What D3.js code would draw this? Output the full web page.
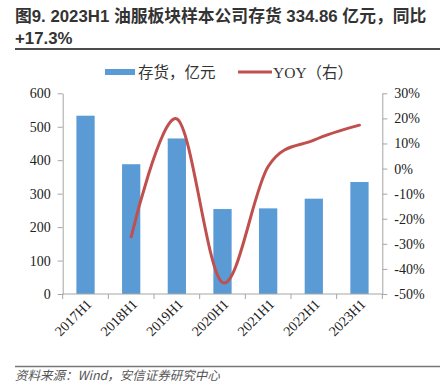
<!DOCTYPE html>
<html>
<head>
<meta charset="utf-8">
<script src="https://cdn.jsdelivr.net/npm/d3@7/dist/d3.min.js"></script>
<style>
  body { margin: 0; background: #fff; }
  svg { display: block; }
  .tick text { font-family: "Liberation Serif", "Times New Roman", serif; font-size: 14px; fill: #222; }
  .axis path, .axis line { stroke: #a6a6a6; }
</style>
</head>
<body>
<script>
// data
var categories = ["2017H1", "2018H1", "2019H1", "2020H1", "2021H1", "2022H1", "2023H1"];
var inventory = [533, 388, 465, 254, 256, 285, 334.86];
var yoy = [null, -27.2, 19.8, -45.4, 0.8, 11.3, 17.3];
var leftTicks = [0, 100, 200, 300, 400, 500, 600];
var rightTicks = [-50, -40, -30, -20, -10, 0, 10, 20, 30];

var W = 447, H = 388;
var margin = {top: 93.3, left: 62.7, right: 64.7, bottom: 94};
var w = W - margin.left - margin.right,
    h = H - margin.top - margin.bottom;

var svg = d3.select("body").append("svg")
  .attr("width", W).attr("height", H);

/***Title***/
var title = svg.append("text")
  .style("font-family", "'Liberation Sans', Arial, 'Noto Sans CJK SC', sans-serif")
  .style("font-weight", "bold").style("font-size", "16.8px").style("fill", "#333");
title.append("tspan").attr("x", 15).attr("y", 22).text("图9. 2023H1 油服板块样本公司存货 334.86 亿元，同比");
title.append("tspan").attr("x", 15).attr("y", 44).text("+17.3%");

svg.append("line").attr("x1", 15).attr("x2", 440).attr("y1", 49).attr("y2", 49)
  .attr("stroke", "#111").attr("stroke-width", 1.5);

/***Legend***/
var lg = svg.append("g")
  .style("font-family", "'Liberation Serif', 'Noto Sans CJK SC', serif")
  .style("font-size", "15.5px").style("fill", "#333");
lg.append("rect").attr("x", 105).attr("y", 69).attr("width", 30).attr("height", 6).attr("fill", "#5b9bd5");
lg.append("text").attr("x", 138).attr("y", 77.5).text("存货，亿元");
lg.append("line").attr("x1", 238).attr("x2", 272).attr("y1", 72).attr("y2", 72)
  .attr("stroke", "#c0504d").attr("stroke-width", 3);
lg.append("text").attr("x", 273).attr("y", 77.5).text("YOY（右）");

var g = svg.append("g").attr("transform", "translate(" + margin.left + "," + margin.top + ")");

/***Scales***/
var x = d3.scaleBand().domain(categories).range([0, w]).padding(0);
var yL = d3.scaleLinear().domain([0, 600]).range([h, 0]);
var yR = d3.scaleLinear().domain([-50, 30]).range([h, 0]);

/***Bars***/
var barW = x.bandwidth() * 0.4;
g.selectAll(".bar").data(inventory).enter().append("rect")
  .attr("class", "bar")
  .attr("x", function(d, i) { return x(categories[i]) + (x.bandwidth() - barW) / 2; })
  .attr("y", function(d) { return yL(d); })
  .attr("width", barW)
  .attr("height", function(d) { return h - yL(d); })
  .attr("fill", "#5b9bd5");

/***Axes***/
g.append("g").attr("class", "axis")
  .call(d3.axisLeft(yL).tickValues(leftTicks).tickSize(5).tickSizeOuter(0).tickPadding(7));
g.append("g").attr("class", "axis")
  .attr("transform", "translate(" + w + ",0)")
  .call(d3.axisRight(yR).tickValues(rightTicks).tickSize(5).tickSizeOuter(0).tickPadding(7)
    .tickFormat(function(d) { return d + "%"; }));

var xAxis = g.append("g").attr("class", "axis")
  .attr("transform", "translate(0," + h + ")");
xAxis.append("line").attr("x1", 0).attr("x2", w).attr("stroke", "#a6a6a6");
xAxis.selectAll(".xt").data(d3.range(categories.length + 1)).enter().append("line")
  .attr("x1", function(i) { return i * x.step(); })
  .attr("x2", function(i) { return i * x.step(); })
  .attr("y1", 0).attr("y2", 5).attr("stroke", "#a6a6a6");
xAxis.selectAll(".xl").data(categories).enter().append("text")
  .attr("text-anchor", "end")
  .attr("transform", function(d) {
    return "translate(" + (x(d) + x.bandwidth() / 2 + 7) + ",11)rotate(-45)";
  })
  .style("font-family", "'Liberation Serif', 'Times New Roman', serif")
  .style("font-size", "14px").style("fill", "#222")
  .text(function(d) { return d; });

/***YOY line***/
var pts = yoy.map(function(d, i) { return {v: d, i: i}; }).filter(function(d) { return d.v != null; });
g.append("path")
  .datum(pts)
  .attr("fill", "none").attr("stroke", "#c0504d").attr("stroke-width", 3)
  .attr("stroke-linecap", "round")
  .attr("d", d3.line()
    .curve(d3.curveCardinal.tension(0))
    .x(function(d) { return x(categories[d.i]) + x.bandwidth() / 2; })
    .y(function(d) { return yR(d.v); }));

/***Source***/
svg.append("line").attr("x1", 15).attr("x2", 440).attr("y1", 366.5).attr("y2", 366.5)
  .attr("stroke", "#777").attr("stroke-width", 1.5);
svg.append("text").attr("x", 15).attr("y", 380)
  .style("font-family", "'Noto Sans CJK SC', sans-serif").style("font-style", "italic")
  .style("font-size", "12.5px").style("fill", "#555")
  .text("资料来源：Wind，安信证券研究中心");
</script>
</body>
</html>
